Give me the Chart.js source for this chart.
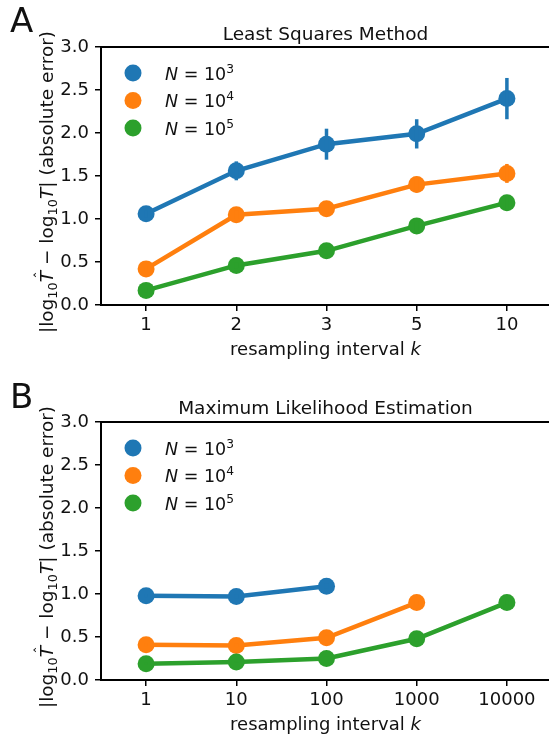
<!DOCTYPE html>
<html>
<head>
<meta charset="utf-8">
<script src="https://cdn.jsdelivr.net/npm/chart.js@4"></script>
<style>
  html, body { margin: 0; padding: 0; background: #fff; width: 549px; height: 736px; overflow: hidden; }
  .panel { position: relative; width: 556px; height: 368px; }
  canvas { display: block; }
</style>
</head>
<body>
<div class="panel"><canvas id="chartA" width="556" height="368"></canvas></div>
<div class="panel"><canvas id="chartB" width="556" height="368"></canvas></div>
<script>
// categories (resampling interval k)
const lsqIntervals = ['1', '2', '3', '5', '10'];
const mleIntervals = ['1', '10', '100', '1000', '10000'];

// legend exponents: N = 10^3, 10^4, 10^5
const sampleExponents = ['3', '4', '5'];

// y ticks
const yTicks = [0, 0.5, 1, 1.5, 2, 2.5, 3];

// Least Squares Method: means and error bar half-widths
const lsqN3 = [1.06, 1.56, 1.87, 1.99, 2.40];
const lsqN3Err = [0.04, 0.11, 0.18, 0.17, 0.24];
const lsqN4 = [0.42, 1.05, 1.12, 1.40, 1.53];
const lsqN4Err = [0.03, 0.05, 0.08, 0.09, 0.11];
const lsqN5 = [0.17, 0.46, 0.63, 0.92, 1.19];
const lsqN5Err = [0.02, 0.03, 0.04, 0.05, 0.09];

// Maximum Likelihood Estimation (N=10^3 has no points at 1000 / 10000)
const mleN3 = [0.98, 0.97, 1.09, null, null];
const mleN3Err = [0.02, 0.02, 0.03, 0, 0];
const mleN4 = [0.41, 0.40, 0.49, 0.90, null];
const mleN4Err = [0.02, 0.02, 0.03, 0.03, 0];
const mleN5 = [0.19, 0.21, 0.25, 0.48, 0.90];
const mleN5Err = [0.01, 0.01, 0.02, 0.03, 0.03];

const colors = ['#1f77b4', '#ff7f0e', '#2ca02c'];
const FONT = '"DejaVu Sans", sans-serif';
const TXT = '#111';

// draw a run of text pieces with mixed styles
function drawRich(ctx, parts, x, y, size, align) {
  let total = 0;
  parts.forEach(p => {
    ctx.font = (p.italic ? 'italic ' : '') + (size * (p.scale || 1)) + 'px ' + FONT;
    p.w = ctx.measureText(p.t).width;
    total += p.w;
  });
  let cx = align === 'center' ? x - total / 2 : x;
  parts.forEach(p => {
    ctx.font = (p.italic ? 'italic ' : '') + (size * (p.scale || 1)) + 'px ' + FONT;
    ctx.textBaseline = 'alphabetic';
    ctx.textAlign = 'left';
    ctx.fillText(p.t, cx, y - (p.dy || 0) * size);
    if (p.hat) {
      ctx.font = (size * 0.8) + 'px ' + FONT;
      ctx.textAlign = 'center';
      ctx.fillText('\u02C6', cx + p.w / 2 + size * 0.08, y - size * 0.42);
    }
    cx += p.w;
  });
}

function makeErrorPlugin(errs) {
  return {
    id: 'errbars',
    afterDatasetsDraw(chart) {
      const ctx = chart.ctx;
      const xs = chart.scales.x, ys = chart.scales.y;
      ctx.save();
      chart.data.datasets.forEach((ds, di) => {
        ctx.fillStyle = ds.borderColor;
        ds.data.forEach((v, i) => {
          if (v === null || !errs[di][i]) return;
          const px = xs.getPixelForValue(i);
          const y1 = ys.getPixelForValue(v + errs[di][i]);
          const y2 = ys.getPixelForValue(v - errs[di][i]);
          ctx.fillRect(px - 1.75, y1, 3.5, y2 - y1);
        });
      });
      ctx.restore();
    }
  };
}

function makeDecorPlugin(opt) {
  return {
    id: 'decor',
    afterDraw(chart) {
      const ctx = chart.ctx;
      const a = chart.chartArea;
      const mid = 325.5;
      ctx.save();
      // top spine
      ctx.fillStyle = '#000';
      ctx.fillRect(a.left - 1, a.top - 1, 560 - a.left, 2);
      ctx.fillStyle = TXT;
      // panel letter
      ctx.font = '34px ' + FONT;
      ctx.textAlign = 'left';
      ctx.textBaseline = 'alphabetic';
      ctx.fillText(opt.letter, 10, opt.letterY);
      // title
      drawRich(ctx, [{t: opt.title}], mid, opt.titleY, 18.5, 'center');
      // x title
      drawRich(ctx, [{t: 'resampling interval '}, {t: 'k', italic: true}], mid, opt.xTitleY, 18, 'center');
      // y title (rotated)
      ctx.save();
      ctx.translate(53, (a.top + a.bottom) / 2 + 6);
      ctx.rotate(-Math.PI / 2);
      drawRich(ctx, [
        {t: '|log'}, {t: '10', scale: 0.7, dy: -0.2}, {t: 'T', italic: true, hat: true},
        {t: ' \u2212 log'}, {t: '10', scale: 0.7, dy: -0.2}, {t: 'T', italic: true},
        {t: '| (absolute error)'}
      ], 0, 0, 18.5, 'center');
      ctx.restore();
      // legend
      sampleExponents.forEach((e, i) => {
        const cy = a.top + 26 + i * 27.5;
        ctx.fillStyle = colors[i];
        ctx.beginPath();
        ctx.arc(133, cy, 8.5, 0, Math.PI * 2);
        ctx.closePath();
        ctx.fill();
        ctx.fillStyle = TXT;
        drawRich(ctx, [{t: 'N', italic: true}, {t: ' = 10'}, {t: e, scale: 0.7, dy: 0.38}], 165, cy + 6.5, 17.5, 'left');
      });
      ctx.restore();
    }
  };
}

function makeChart(id, labels, series, errs, opt) {
  const datasets = series.map((d, i) => ({
    data: d,
    borderColor: colors[i],
    backgroundColor: colors[i],
    pointBackgroundColor: colors[i],
    pointBorderWidth: 0,
    pointRadius: 8.5,
    borderWidth: 4.5,
    tension: 0,
    spanGaps: false,
    order: 3 - i
  }));
  return new Chart(document.getElementById(id), {
    type: 'line',
    data: { labels: labels, datasets: datasets },
    options: {
      responsive: false,
      animation: false,
      devicePixelRatio: 1,
      layout: { autoPadding: false, padding: { top: opt.top, left: 0, right: 4, bottom: 0 } },
      plugins: { legend: { display: false }, tooltip: { enabled: false }, title: { display: false } },
      scales: {
        x: {
          type: 'category',
          offset: true,
          grid: { display: true, offset: false, drawOnChartArea: false, drawTicks: true, tickLength: 6, color: '#000', lineWidth: 1.5 },
          border: { display: true, color: '#000', width: 2 },
          ticks: { color: TXT, font: { family: FONT, size: 18 }, padding: 4, maxRotation: 0 },
          afterFit(s) { s.height = opt.xHeight; s.paddingLeft = 0; s.paddingRight = 0; }
        },
        y: {
          min: 0,
          max: 3,
          afterBuildTicks(s) { s.ticks = yTicks.map(v => ({ value: v })); },
          grid: { display: true, drawOnChartArea: false, drawTicks: true, tickLength: 6, color: '#000', lineWidth: 1.5 },
          border: { display: true, color: '#000', width: 2 },
          ticks: { color: TXT, font: { family: FONT, size: 18 }, padding: 6, callback: v => v.toFixed(1) },
          afterFit(s) { s.width = 101; }
        }
      }
    },
    plugins: [makeErrorPlugin(errs), makeDecorPlugin(opt)]
  });
}

makeChart('chartA', lsqIntervals, [lsqN3, lsqN4, lsqN5], [lsqN3Err, lsqN4Err, lsqN5Err], {
  top: 47, xHeight: 63, letter: 'A', letterY: 32, title: 'Least Squares Method', titleY: 40, xTitleY: 355
});
makeChart('chartB', mleIntervals, [mleN3, mleN4, mleN5], [mleN3Err, mleN4Err, mleN5Err], {
  top: 54, xHeight: 56, letter: 'B', letterY: 40, title: 'Maximum Likelihood Estimation', titleY: 46, xTitleY: 362
});
</script>
</body>
</html>
